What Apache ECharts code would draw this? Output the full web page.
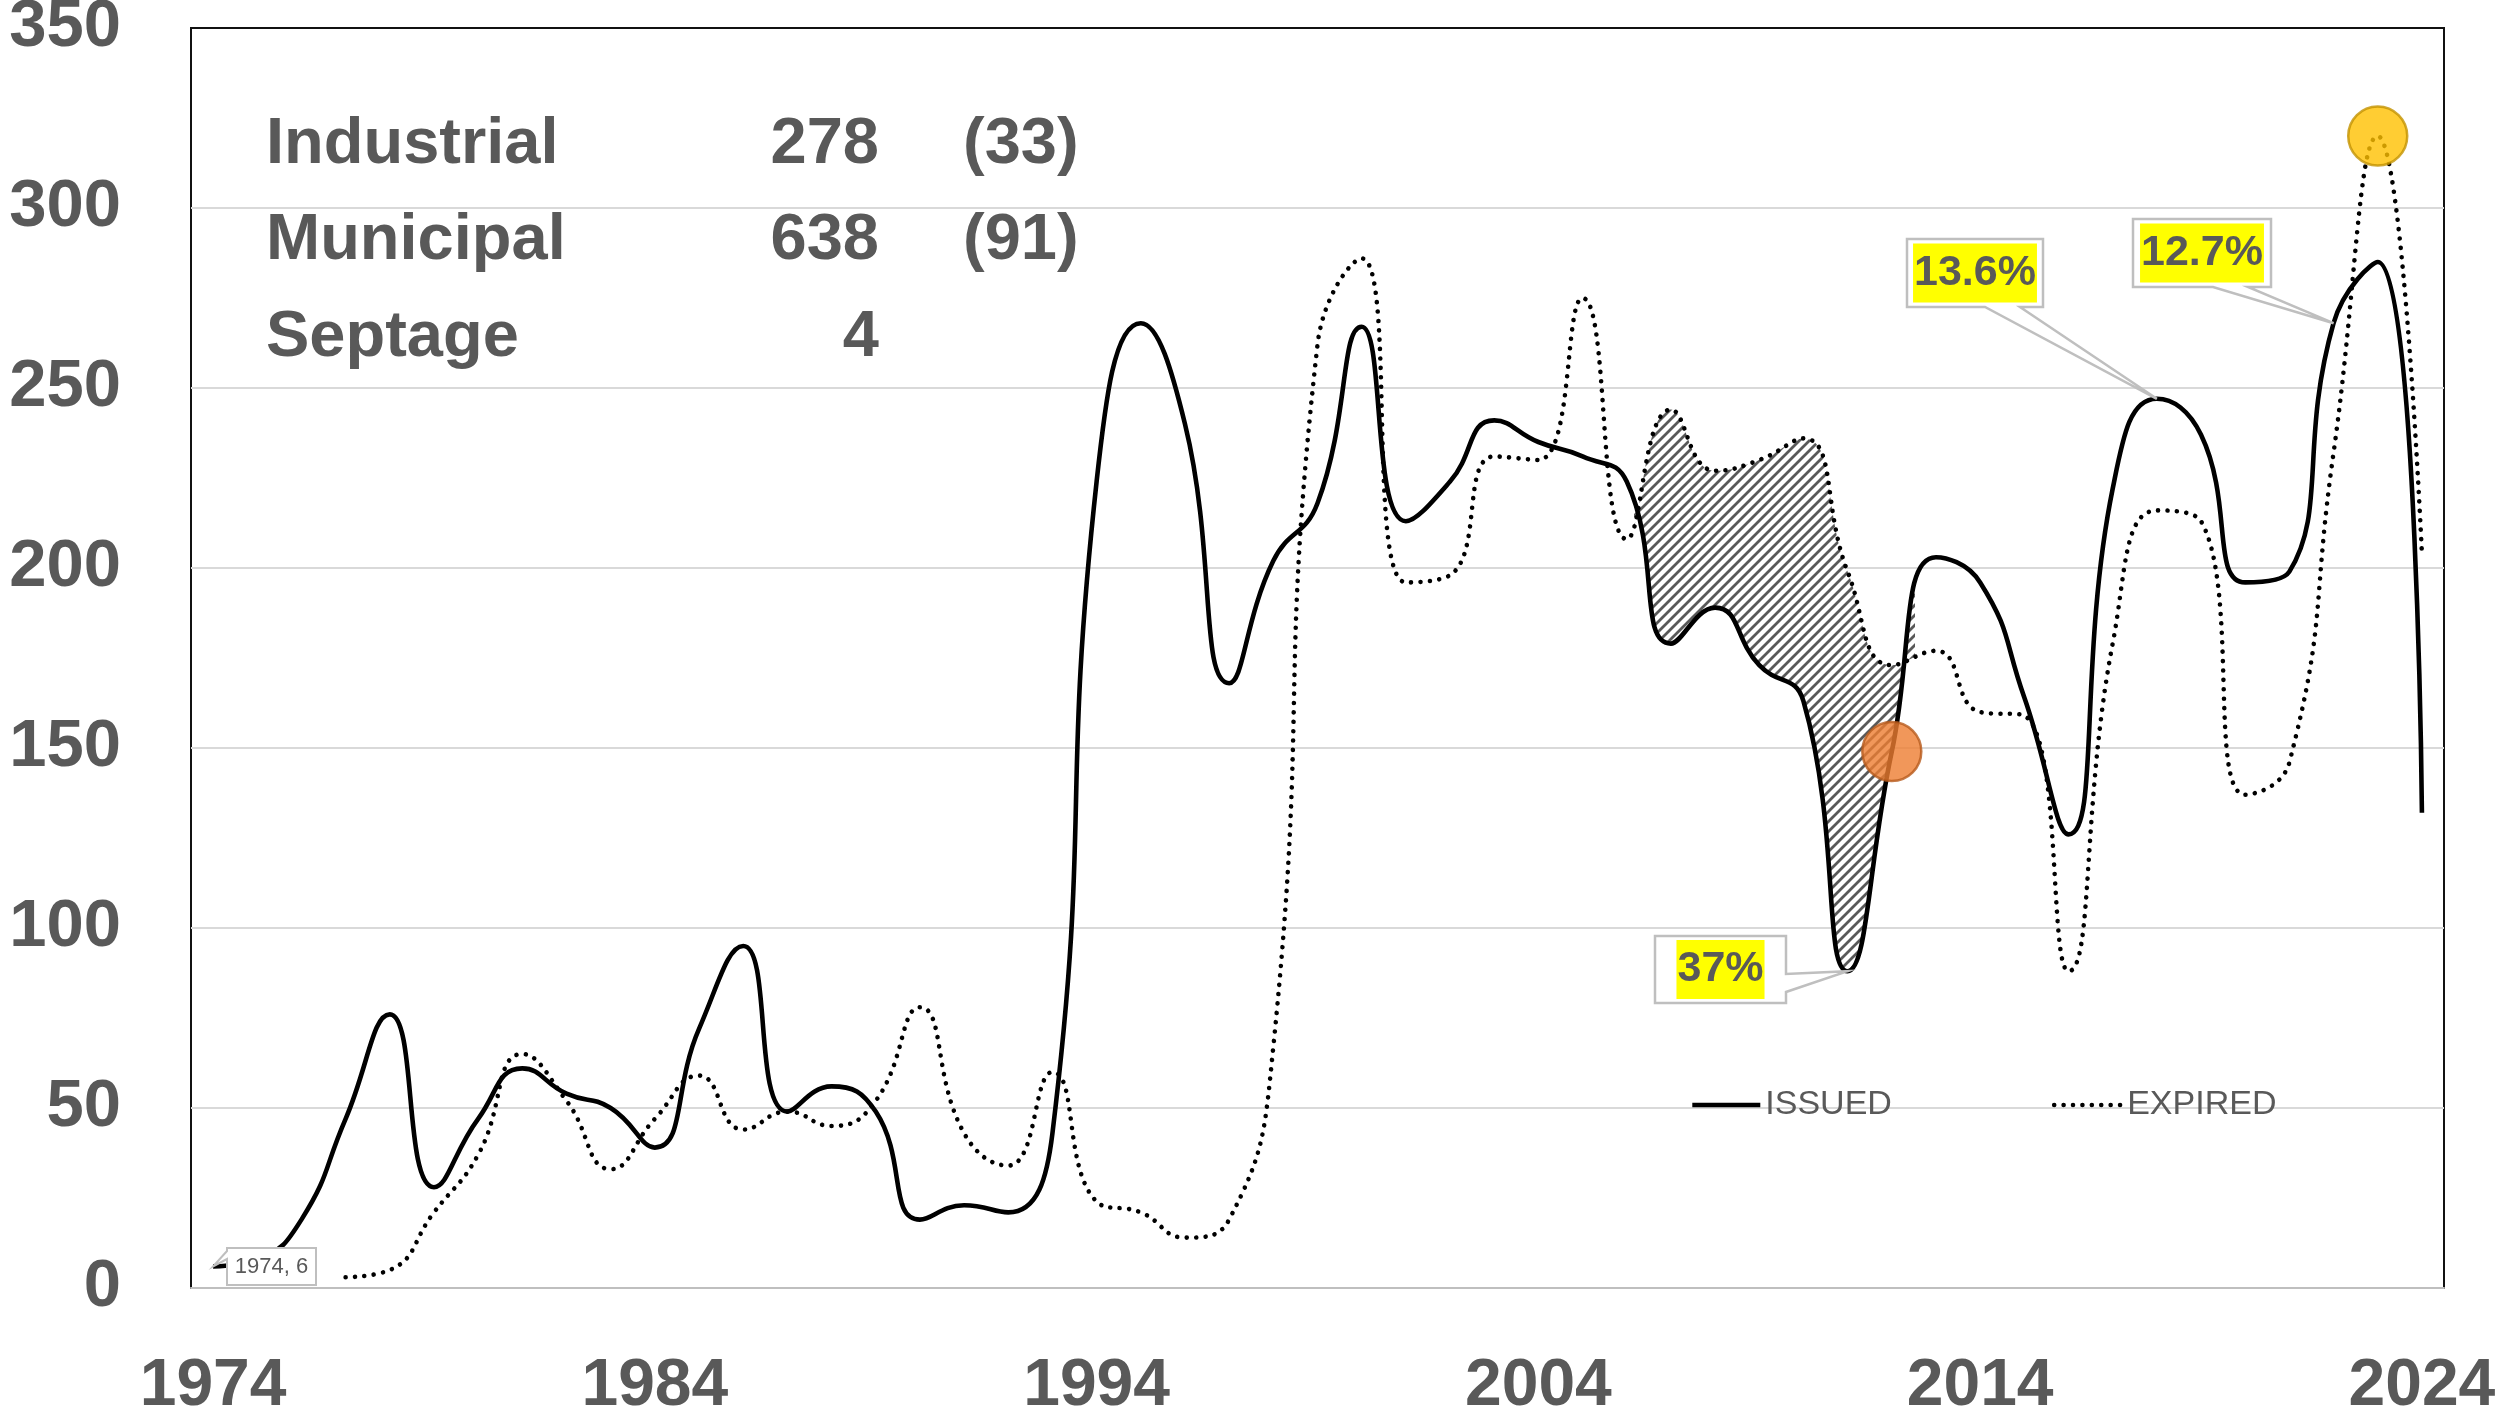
<!DOCTYPE html>
<html>
<head>
<meta charset="utf-8">
<script src="https://cdn.jsdelivr.net/npm/echarts@6/dist/echarts.min.js"></script>
<style>
html, body { margin: 0; padding: 0; background: #fff; }
#visual { width: 2509px; height: 1411px; }
</style>
</head>
<body>
<div id="visual"></div>
<script>
// permits issued / expired per year
var years = ['1974','1975','1976','1977','1978','1979','1980','1981','1982','1983',
	'1984','1985','1986','1987','1988','1989','1990','1991','1992','1993',
	'1994','1995','1996','1997','1998','1999','2000','2001','2002','2003',
	'2004','2005','2006','2007','2008','2009','2010','2011','2012','2013',
	'2014','2015','2016','2017','2018','2019','2020','2021','2022','2023','2024'];
var issued = [6, 8, 19, 47, 76, 28, 47, 61, 54, 50,
	39, 72, 95, 49, 56, 49, 19, 23, 21, 43,
	224, 268, 240, 168, 202, 218, 267, 213, 224, 241,
	235, 231, 224, 179, 189, 173, 163, 88, 149, 203,
	196, 164, 126, 222, 247, 237, 196, 199, 268, 285, 132];
var expired = [null, null, null, 3, 5, 21, 37, 65, 52, 33,
	47, 59, 44, 49, 45, 52, 78, 43, 34, 60,
	24, 21, 14, 19, 67, 262, 286, 196, 198, 231,
	230, 275, 208, 244, 227, 230, 236, 199, 173, 177,
	160, 159, 88, 179, 216, 213, 137, 146, 232, 320, 204];
var yTicks = [0, 350, 50];            // min, max, step
var hatchYears = ['2006', '2013'];    // shaded gap between the curves
var markYears = ['2012', '2023'];     // orange dot on issued, gold dot on expired
var noteYears = ['2011', '2018', '2022'];
var noteTexts = ['37%', '13.6%', '12.7%'];
var permitTypes = ['Industrial', 'Municipal', 'Septage'];
var permitCounts = [278, 638, 4];
var permitPending = [33, 91, null];

var FONT = '"Liberation Sans", Arial, sans-serif';
var GREY = '#595959';
var G = { left: 191, right: 65, top: 28, bottom: 123 };
var W = 2509, H = 1411;
var bandW = (W - G.left - G.right) / years.length;

// hatch limits: where expired crosses issued
function gap(i) { return expired[i] - issued[i]; }
var i0 = years.indexOf(hatchYears[0]), i1 = years.indexOf(hatchYears[1]);
var hatchMin = i0 + gap(i0) / (gap(i0) - gap(i0 + 1));
var hatchMax = (i1 - 1) + gap(i1 - 1) / (gap(i1 - 1) - gap(i1));

// [value, index] so the stack runs on the value dimension
var baseData = [], bandData = [];
for (var i = 0; i < years.length; i++) {
	baseData.push([issued[i], i]);
	bandData.push([expired[i] != null ? expired[i] - issued[i] : '-', i]);
}

function hatchPattern() {
	var s = 10;
	var c = document.createElement('canvas');
	c.width = s; c.height = s;
	var g = c.getContext('2d');
	g.fillStyle = '#fff'; g.fillRect(0, 0, s, s);
	g.strokeStyle = GREY; g.lineWidth = 2.8;
	g.beginPath();
	g.moveTo(-2, 2); g.lineTo(2, -2);
	g.moveTo(-2, s + 2); g.lineTo(s + 2, -2);
	g.moveTo(s - 2, s + 2); g.lineTo(s + 2, s - 2);
	g.stroke();
	return c;
}

var chartDom = document.getElementById('visual');
var myChart = echarts.init(chartDom);

var iMark0 = years.indexOf(markYears[0]), iMark1 = years.indexOf(markYears[1]);

var options = {
	animation: false,
	backgroundColor: '#fff',
	grid: [
		{ left: G.left, right: G.right, top: G.top, bottom: G.bottom, outerBoundsMode: 'none',
		  show: true, borderColor: '#111', borderWidth: 2 },
		{ left: G.left + (hatchMin + 0.5) * bandW, width: (hatchMax - hatchMin) * bandW,
		  top: G.top, bottom: G.bottom, outerBoundsMode: 'none' }
	],
	xAxis: [
		{ type: 'category', data: years, boundaryGap: true, gridIndex: 0,
		  axisLine: { show: true, lineStyle: { color: '#bfbfbf', width: 2 } },
		  axisTick: { show: false },
		  axisLabel: { interval: 9, margin: 66, fontSize: 66, fontWeight: 'bold',
		               fontFamily: FONT, color: GREY } },
		{ type: 'value', gridIndex: 1, min: hatchMin, max: hatchMax, show: false }
	],
	yAxis: [
		{ type: 'value', min: yTicks[0], max: yTicks[1], interval: yTicks[2], gridIndex: 0,
		  axisLine: { show: false }, axisTick: { show: false },
		  splitLine: { showMaxLine: false, lineStyle: { color: '#d9d9d9', width: 2 } },
		  axisLabel: { margin: 70, fontSize: 67, fontWeight: 'bold', fontFamily: FONT, color: GREY } },
		{ type: 'value', gridIndex: 1, min: yTicks[0], max: yTicks[1], show: false }
	],
	legend: {
		data: ['ISSUED', 'EXPIRED'],
		left: 1690, top: 1085, padding: 0,
		itemWidth: 68, itemHeight: 14, itemGap: 160,
		textStyle: { fontSize: 34, color: GREY, fontFamily: FONT, lineHeight: 40 },
		lineStyle: { width: 'inherit' },
		itemStyle: { opacity: 0 }
	},
	series: [
		{
			name: 'ISSUED', type: 'line', smooth: true, symbol: 'none', z: 3,
			data: issued,
			lineStyle: { color: '#000', width: 4.6 },
			itemStyle: { color: '#000' }
		},
		{
			name: 'EXPIRED', type: 'line', smooth: true, symbol: 'none', z: 3,
			data: expired,
			lineStyle: { color: '#000', width: 4.6, type: [0.01, 9.4], cap: 'round' },
			itemStyle: { color: '#000' }
		},
		{
			name: 'base', type: 'line', smooth: true, symbol: 'none', z: 1,
			xAxisIndex: 1, yAxisIndex: 1, stack: 'gap', stackStrategy: 'all',
			encode: { x: 1, y: 0 },
			data: baseData, lineStyle: { opacity: 0 }, silent: true
		},
		{
			name: 'gap', type: 'line', smooth: true, symbol: 'none', z: 1,
			xAxisIndex: 1, yAxisIndex: 1, stack: 'gap', stackStrategy: 'all',
			encode: { x: 1, y: 0 },
			data: bandData, lineStyle: { opacity: 0 }, silent: true,
			areaStyle: { color: { image: hatchPattern(), repeat: 'repeat' }, opacity: 1 }
		},
		{
			name: 'marks', type: 'scatter', z: 5, symbolSize: 59,
			data: [
				{ value: [markYears[0], issued[iMark0]],
				  itemStyle: { color: '#ed7d31', borderColor: '#b65a1c', borderWidth: 2.5 } },
				{ value: [markYears[1], expired[iMark1]],
				  itemStyle: { color: '#ffc000', borderColor: '#c39200', borderWidth: 2.5 } }
			]
		}
	]
};
myChart.setOption(options);

// callouts (box position in pixels, pointer to the data point)
var noteBoxes = [
	{ box: [1655, 936, 1786, 1003], side: 'right', base: [974, 992] },
	{ box: [1907, 239, 2043, 307], side: 'bottom', base: [1985, 2020] },
	{ box: [2133, 219, 2271, 287], side: 'bottom', base: [2213, 2248] }
];
var firstBox = { box: [227, 1248, 316, 1285], side: 'left', base: [1251, 1259] };

function callout(b, t) {
	var x0 = b.box[0], y0 = b.box[1], x1 = b.box[2], y1 = b.box[3];
	if (b.side === 'bottom')
		return [[x0, y0], [x1, y0], [x1, y1], [b.base[1], y1], t, [b.base[0], y1], [x0, y1]];
	if (b.side === 'right')
		return [[x0, y0], [x1, y0], [x1, b.base[0]], t, [x1, b.base[1]], [x1, y1], [x0, y1]];
	return [[x0, y0], [x1, y0], [x1, y1], [x0, y1], [x0, b.base[1]], t, [x0, b.base[0]]];
}

var graphic = [];
for (var n = 0; n < noteYears.length; n++) {
	var k = years.indexOf(noteYears[n]);
	var p = myChart.convertToPixel({ xAxisIndex: 0, yAxisIndex: 0 }, [k, issued[k]]);
	var b = noteBoxes[n];
	graphic.push({ type: 'polygon', z: 100, shape: { points: callout(b, p) },
		style: { fill: '#fff', stroke: '#bfbfbf', lineWidth: 2.5 } });
	graphic.push({ type: 'text', z: 101,
		x: (b.box[0] + b.box[2]) / 2, y: (b.box[1] + b.box[3]) / 2,
		style: { text: noteTexts[n], fill: GREY, font: 'bold 43px ' + FONT,
		         align: 'center', verticalAlign: 'middle',
		         backgroundColor: '#ffff00', padding: [8, 1, 8, 1] } });
}
var p0 = myChart.convertToPixel({ xAxisIndex: 0, yAxisIndex: 0 }, [0, issued[0]]);
graphic.push({ type: 'polygon', z: 100, shape: { points: callout(firstBox, p0) },
	style: { fill: '#fff', stroke: '#bfbfbf', lineWidth: 2 } });
graphic.push({ type: 'text', z: 101,
	x: (firstBox.box[0] + firstBox.box[2]) / 2, y: (firstBox.box[1] + firstBox.box[3]) / 2,
	style: { text: years[0] + ', ' + issued[0], fill: GREY, font: '22px ' + FONT,
	         align: 'center', verticalAlign: 'middle' } });

// permit summary in the top-left corner
var rowY = [145, 241, 338];
for (var r = 0; r < permitTypes.length; r++) {
	graphic.push({ type: 'text', x: 266, y: rowY[r],
		style: { text: permitTypes[r], fill: GREY, font: 'bold 65px ' + FONT, verticalAlign: 'middle' } });
	graphic.push({ type: 'text', x: 879, y: rowY[r],
		style: { text: String(permitCounts[r]), fill: GREY, font: 'bold 65px ' + FONT,
		         align: 'right', verticalAlign: 'middle' } });
	if (permitPending[r] != null)
		graphic.push({ type: 'text', x: 963, y: rowY[r],
			style: { text: '(' + permitPending[r] + ')', fill: GREY, font: 'bold 65px ' + FONT,
			         verticalAlign: 'middle' } });
}
myChart.setOption({ graphic: graphic });
</script>
</body>
</html>
